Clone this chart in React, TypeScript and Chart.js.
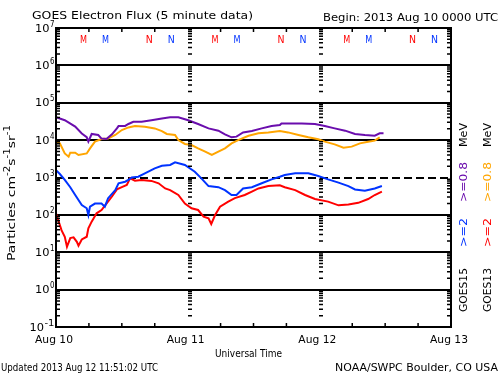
import React, { useEffect, useRef } from "react";
import { Chart, registerables } from "chart.js";

Chart.register(...registerables);

const FONT = '"DejaVu Sans", sans-serif';

// ---- data (hours since 2013 Aug 10 00:00 UT, flux in particles cm-2 s-1 sr-1) ----
const g15LowHours = [0, 1.6, 3.5, 4.7, 5.6, 5.9, 6.5, 7.7, 8.3, 9.2, 10.2, 11.1, 11.4, 12.6, 13.2, 14.1, 15.6, 17.4, 19.3, 20.8, 22.3, 24.1, 25.9, 27.8, 29.6, 30.8, 32.0, 32.9, 34.1, 35.7, 37.5, 39.3, 40.8, 41.1, 44.8, 47.2, 49.0, 50.8, 52.7, 54.5, 56.3, 58.1, 59.0, 59.7];
const g15LowFlux = [4.1e4, 3.4e4, 2.3e4, 1.5e4, 1.2e4, 9.1e3, 1.46e4, 1.37e4, 1.1e4, 1.07e4, 1.43e4, 2.06e4, 2.38e4, 2.4e4, 2.7e4, 3.1e4, 3.1e4, 3.4e4, 3.8e4, 4.1e4, 4.1e4, 3.4e4, 2.7e4, 2.06e4, 1.79e4, 1.43e4, 1.19e4, 1.24e4, 1.61e4, 1.75e4, 2.06e4, 2.38e4, 2.54e4, 2.8e4, 2.8e4, 2.7e4, 2.38e4, 2.06e4, 1.79e4, 1.46e4, 1.37e4, 1.31e4, 1.52e4, 1.52e4];

const g13LowHours = [0, 0.7, 1.6, 2.3, 2.6, 3.5, 4.1, 5.6, 6.2, 7.1, 8.3, 9.5, 10.8, 12.0, 13.2, 14.4, 16.2, 18.0, 19.3, 20.2, 21.7, 22.3, 23.5, 24.7, 25.9, 27.2, 28.4, 29.6, 30.8, 32.0, 33.2, 35.1, 36.9, 38.7, 40.8, 42.3, 44.2, 46.0, 47.8, 49.0, 50.8, 52.4, 53.9, 55.4, 56.9, 58.1, 59.0];
const g13LowFlux = [9.1e3, 8.2e3, 4.4e3, 3.6e3, 4.6e3, 4.6e3, 4.0e3, 4.4e3, 6.0e3, 9.1e3, 1.07e4, 1.11e4, 1.37e4, 1.86e4, 2.19e4, 2.38e4, 2.29e4, 2.06e4, 1.75e4, 1.46e4, 1.37e4, 1.0e4, 7.9e3, 7.4e3, 6.0e3, 4.9e3, 4.0e3, 4.9e3, 6.0e3, 8.2e3, 1.0e4, 1.31e4, 1.52e4, 1.61e4, 1.75e4, 1.61e4, 1.37e4, 1.19e4, 1.05e4, 9.1e3, 7.7e3, 6.3e3, 6.7e3, 8.2e3, 9.1e3, 9.7e3, 1.19e4];

const g15HighHours = [0, 0.7, 1.6, 2.6, 3.5, 4.7, 5.6, 5.9, 6.2, 7.1, 8.3, 8.9, 9.5, 10.8, 11.4, 12.6, 13.2, 13.8, 15.0, 16.2, 18.0, 19.3, 20.8, 21.7, 23.5, 25.3, 26.5, 27.8, 29.6, 30.8, 32.0, 32.9, 34.1, 35.7, 37.5, 39.3, 40.8, 41.7, 43.6, 46.0, 47.8, 49.6, 51.5, 53.3, 54.5, 56.3, 58.1, 59.4];
const g15HighFlux = [1.58e3, 1.24e3, 8.6e2, 5.5e2, 3.4e2, 1.84e2, 1.5e2, 99, 1.66e2, 2.0e2, 2.0e2, 1.66e2, 2.8e2, 4.6e2, 7.0e2, 7.7e2, 8.6e2, 1.0e3, 1.05e3, 1.29e3, 1.76e3, 2.07e3, 2.16e3, 2.54e3, 2.16e3, 1.43e3, 9.5e2, 5.9e2, 5.5e2, 4.6e2, 3.4e2, 3.4e2, 5.1e2, 5.5e2, 7.0e2, 8.9e2, 1.05e3, 1.17e3, 1.29e3, 1.29e3, 1.1e3, 8.9e2, 7.3e2, 5.9e2, 4.8e2, 4.4e2, 5.1e2, 5.9e2];

const g13HighHours = [0, 0.4, 1.0, 1.6, 2.0, 2.6, 3.2, 3.8, 4.1, 4.7, 5.6, 5.9, 6.5, 7.4, 8.3, 9.2, 10.2, 11.1, 12.0, 12.9, 13.5, 14.4, 15.6, 17.4, 18.7, 19.9, 20.8, 22.3, 23.5, 24.7, 25.9, 26.9, 27.8, 28.3, 29.0, 29.9, 31.4, 32.6, 34.4, 35.7, 36.9, 38.7, 40.8, 41.7, 43.6, 45.4, 47.2, 49.6, 51.5, 53.3, 55.1, 56.9, 58.1, 59.4];
const g13HighFlux = [1.1e2, 73, 39, 26, 14, 24, 25, 19, 15, 22, 26, 44, 66, 1.1e2, 1.35e2, 2.0e2, 3.1e2, 4.8e2, 5.5e2, 6.3e2, 9.5e2, 8.2e2, 8.6e2, 8.1e2, 7.0e2, 5.1e2, 4.6e2, 3.4e2, 2.0e2, 1.5e2, 1.35e2, 90, 81, 57, 99, 1.66e2, 2.26e2, 2.8e2, 3.4e2, 4.2e2, 5.1e2, 5.9e2, 6.2e2, 5.5e2, 4.6e2, 3.4e2, 2.66e2, 2.26e2, 1.8e2, 1.9e2, 2.1e2, 2.66e2, 3.4e2, 4.2e2];

// ---- axes / labels ----
const dayHours = [0, 24, 48, 72];
const dayLabels = ["Aug 10", "Aug 11", "Aug 12", "Aug 13"];
const decadeExponents = [7, 6, 5, 4, 3, 2, 1, 0, -1];
const thresholdExponent = 3;
const markerHours = [5, 9, 17, 21, 29, 33, 41, 45, 53, 57, 65, 69];
const markerLabels = ["M", "M", "N", "N", "M", "M", "N", "N", "M", "M", "N", "N"];
const markerSats = ["13", "15", "13", "15", "13", "15", "13", "15", "13", "15", "13", "15"];

const C = {
  g15Low: "#6a0dad",
  g13Low: "#ffa500",
  g15High: "#0033ff",
  g13High: "#ff0000",
};

function fitText(ctx: CanvasRenderingContext2D, text: string, x: number, y: number, width: number, size: number, align: string, color: string) {
  ctx.save();
  ctx.font = `${size}px ${FONT}`;
  const w = ctx.measureText(text).width;
  const x0 = align === "left" ? x : align === "center" ? x - width / 2 : x - width;
  ctx.translate(x0, y);
  ctx.scale(width / w, 1);
  ctx.fillStyle = color;
  ctx.textAlign = "left";
  ctx.textBaseline = "alphabetic";
  ctx.fillText(text, 0, 0);
  ctx.restore();
}

function rotText(ctx: CanvasRenderingContext2D, text: string, baseX: number, bottomY: number, topY: number, size: number, color: string) {
  ctx.save();
  ctx.font = `${size}px ${FONT}`;
  const w = ctx.measureText(text).width;
  ctx.translate(baseX, bottomY);
  ctx.rotate(-Math.PI / 2);
  ctx.scale((bottomY - topY) / w, 1);
  ctx.fillStyle = color;
  ctx.textAlign = "left";
  ctx.textBaseline = "alphabetic";
  ctx.fillText(text, 0, 0);
  ctx.restore();
}

const framePlugin = {
  id: "goesFrame",
  beforeDraw(chart: any) {
    const { ctx, width, height } = chart;
    ctx.save();
    ctx.fillStyle = "#ffffff";
    ctx.fillRect(0, 0, width, height);
    ctx.restore();
  },
  beforeDatasetsDraw(chart: any) {
    const { ctx, chartArea: a, scales } = chart;
    const y = scales.y;
    ctx.save();
    ctx.strokeStyle = "#000";
    ctx.lineWidth = 2;
    for (const e of decadeExponents) {
      const py = Math.round(y.getPixelForValue(Math.pow(10, e)));
      ctx.setLineDash(e === thresholdExponent ? [8, 4] : []);
      ctx.beginPath();
      ctx.moveTo(a.left, py);
      ctx.lineTo(a.right, py);
      ctx.stroke();
    }
    ctx.restore();
  },
  afterDatasetsDraw(chart: any) {
    const { ctx, chartArea: a, scales } = chart;
    const x = scales.x;
    const y = scales.y;
    ctx.save();
    ctx.strokeStyle = "#000";
    // frame
    ctx.lineWidth = 2;
    ctx.setLineDash([]);
    ctx.strokeRect(a.left, a.top, a.right - a.left, a.bottom - a.top);

    // log minor ticks on left, right and day lines
    ctx.lineWidth = 1.5;
    const colsX: number[] = [a.left];
    for (let i = 1; i < dayHours.length - 1; i++) colsX.push(Math.round(x.getPixelForValue(dayHours[i])));
    for (let e = -1; e < 7; e++) {
      for (let k = 2; k <= 9; k++) {
        const py = y.getPixelForValue(k * Math.pow(10, e));
        ctx.beginPath();
        for (const cx of colsX) {
          ctx.moveTo(cx, py);
          ctx.lineTo(cx + 4, py);
        }
        ctx.moveTo(a.right - 4, py);
        ctx.lineTo(a.right, py);
        ctx.stroke();
      }
    }
    // time ticks every 6 h on top and bottom
    ctx.lineWidth = 1.5;
    for (let h = 6; h < 72; h += 6) {
      if (h % 24 === 0) continue;
      const px = x.getPixelForValue(h);
      ctx.beginPath();
      ctx.moveTo(px, a.top);
      ctx.lineTo(px, a.top + 4);
      ctx.moveTo(px, a.bottom);
      ctx.lineTo(px, a.bottom - 4);
      ctx.stroke();
    }

    // y labels
    for (const e of decadeExponents) {
      const py = y.getPixelForValue(Math.pow(10, e));
      const sup = e < 0 ? "-" + Math.abs(e) : String(e);
      ctx.font = `8px ${FONT}`;
      const sw = e < 0 ? 10 : 4.5;
      fitText(ctx, sup, 54.5, py - 1.5, sw, 8, "right", "#000");
      fitText(ctx, "10", 54.5 - sw - 0.5, py + 3.5, 14.5, 10, "right", "#000");
    }

    // x labels
    for (let i = 0; i < dayHours.length; i++) {
      const px = x.getPixelForValue(dayHours[i]);
      fitText(ctx, dayLabels[i], px - 2, 342.5, 38, 10, "center", "#000");
    }
    fitText(ctx, "Universal Time", 248.5, 356.5, 67, 10, "center", "#000");

    // top markers
    for (let i = 0; i < markerHours.length; i++) {
      const px = x.getPixelForValue(markerHours[i]);
      const col = markerSats[i] === "13" ? C.g13High : C.g15High;
      fitText(ctx, markerLabels[i], px, 43.3, 7, 11, "center", col);
    }

    // titles
    fitText(ctx, "GOES Electron Flux (5 minute data)", 32, 19, 221, 11, "left", "#000");
    fitText(ctx, "Begin: 2013 Aug 10 0000 UTC", 323, 21.3, 175, 10, "left", "#000");
    fitText(ctx, "Updated 2013 Aug 12 11:51:02 UTC", 1, 370.5, 157, 10, "left", "#000");
    fitText(ctx, "NOAA/SWPC Boulder, CO USA", 498, 370.5, 163, 10, "right", "#000");

    // y axis title (rotated, with superscripts)
    const runs: [string, boolean][] = [["Particles cm", false], ["-2", true], ["s", false], ["-1", true], ["sr", false], ["-1", true]];
    ctx.save();
    let total = 0;
    const widths: number[] = [];
    for (const [t, s] of runs) {
      ctx.font = `${s ? 8 : 11}px ${FONT}`;
      const w = ctx.measureText(t).width;
      widths.push(w);
      total += w;
    }
    const bottomY = 261;
    const topY = 125;
    ctx.translate(15, bottomY);
    ctx.rotate(-Math.PI / 2);
    ctx.scale((bottomY - topY) / total, 1);
    ctx.fillStyle = "#000";
    ctx.textBaseline = "alphabetic";
    let cx = 0;
    runs.forEach(([t, s], i) => {
      ctx.font = `${s ? 8 : 11}px ${FONT}`;
      ctx.fillText(t, cx, s ? -5 : 0);
      cx += widths[i];
    });
    ctx.restore();

    // right side series labels
    const cols: [number, string, string, string][] = [
      [467, "GOES15", C.g15High, C.g15Low],
      [491, "GOES13", C.g13High, C.g13Low],
    ];
    for (const [bx, sat, cHigh, cLow] of cols) {
      rotText(ctx, sat, bx, 312, 268, 11, "#000");
      rotText(ctx, ">=2", bx, 247, 218, 11, cHigh);
      rotText(ctx, ">=0.8", bx, 202, 162, 11, cLow);
      rotText(ctx, "MeV", bx, 147, 123, 11, "#000");
    }
    ctx.restore();
  },
};

function series(hours: number[], flux: number[], color: string) {
  return {
    data: hours.map((h, i) => ({ x: h, y: flux[i] })),
    borderColor: color,
    backgroundColor: color,
    borderWidth: 2,
    pointRadius: 0,
    tension: 0,
    fill: false,
  };
}

export default function App() {
  const ref = useRef<HTMLCanvasElement>(null);
  useEffect(() => {
    document.body.style.margin = "0";
    const canvas = ref.current;
    if (!canvas) return;
    const chart = new Chart(canvas, {
      type: "line",
      data: {
        datasets: [
          series(g15LowHours, g15LowFlux, C.g15Low),
          series(g13LowHours, g13LowFlux, C.g13Low),
          series(g15HighHours, g15HighFlux, C.g15High),
          series(g13HighHours, g13HighFlux, C.g13High),
        ] as any,
      },
      options: {
        responsive: false,
        animation: false,
        devicePixelRatio: 1,
        layout: { padding: { left: 56, top: 28, right: 49, bottom: 48 } },
        plugins: {
          legend: { display: false },
          tooltip: { enabled: false },
          title: { display: false },
        },
        scales: {
          x: { type: "linear", min: 0, max: 72, display: false },
          y: { type: "logarithmic", min: 0.1, max: 1e7, display: false },
        },
      },
      plugins: [framePlugin],
    });
    return () => chart.destroy();
  }, []);
  return (
    <div style={{ width: 500, height: 375 }}>
      <canvas ref={ref} width={500} height={375} style={{ display: "block" }} />
    </div>
  );
}
